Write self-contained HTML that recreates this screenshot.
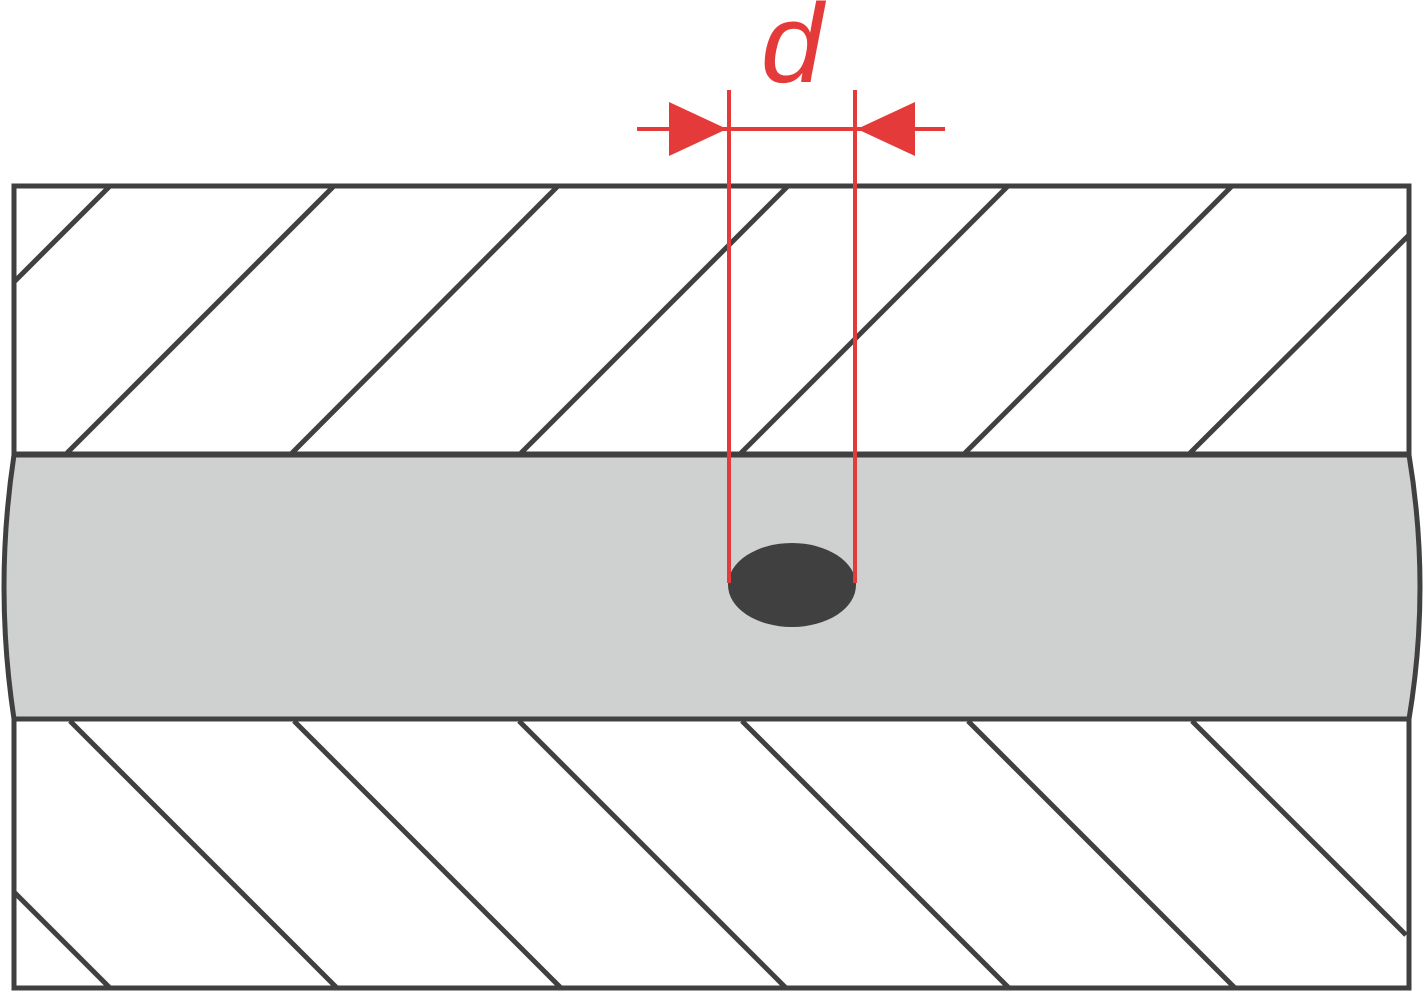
<!DOCTYPE html>
<html><head><meta charset="utf-8"><style>
html,body{margin:0;padding:0;background:#fff;width:1425px;height:992px;overflow:hidden}
</style></head><body>
<svg width="1425" height="992" viewBox="0 0 1425 992" xmlns="http://www.w3.org/2000/svg">
<g stroke="#404040" stroke-width="5" fill="none">
<rect x="14" y="186" width="1395" height="268" fill="#fff"/>
<rect x="14" y="719" width="1395" height="269" fill="#fff"/>
<line x1="14" y1="282" x2="110" y2="186"/>
<line x1="67" y1="453" x2="334" y2="186"/>
<line x1="292" y1="453" x2="558" y2="186"/>
<line x1="521" y1="453" x2="788" y2="186"/>
<line x1="741" y1="453" x2="1008" y2="186"/>
<line x1="965" y1="453" x2="1232" y2="186"/>
<line x1="1190" y1="453" x2="1409" y2="235"/>
<line x1="70" y1="721" x2="337" y2="988"/>
<line x1="294" y1="721" x2="561" y2="988"/>
<line x1="519" y1="721" x2="786" y2="988"/>
<line x1="742" y1="721" x2="1009" y2="988"/>
<line x1="968" y1="721" x2="1235" y2="988"/>
<line x1="1192" y1="721" x2="1406" y2="935"/>
<line x1="14" y1="892" x2="110" y2="988"/>
<path d="M14,455 L1409,455 Q1431,587 1409,719 L14,719 Q-6,587 14,455 Z" fill="#cfd1d0"/>
</g>
<ellipse cx="792" cy="585" rx="64" ry="42" fill="#404040"/>
<g stroke="#e53a3a" stroke-width="4" fill="none">
<line x1="729" y1="90" x2="729" y2="583"/>
<line x1="855" y1="90" x2="855" y2="583"/>
<line x1="637" y1="129" x2="945" y2="129"/>
</g>
<polygon points="727,129 669,102 669,156" fill="#e53a3a"/>
<polygon points="857,129 915,102 915,156" fill="#e53a3a"/>
<text x="792" y="82" text-anchor="middle" font-family="Liberation Sans, sans-serif" font-style="italic" font-size="112" fill="#e53a3a">d</text>
</svg>
</body></html>
